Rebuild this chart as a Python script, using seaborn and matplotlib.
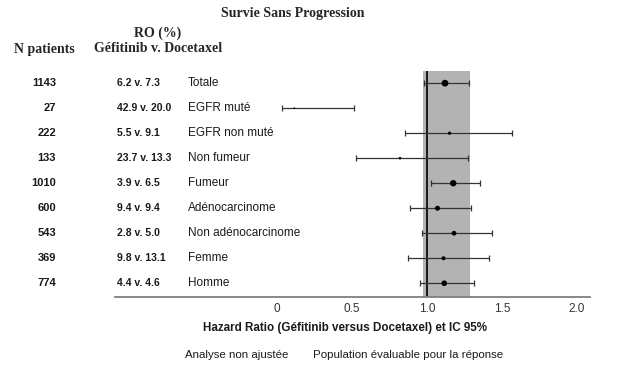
import matplotlib
matplotlib.use("Agg")
import matplotlib.pyplot as plt
import matplotlib.transforms as mtransforms
import seaborn as sns
import pandas as pd
import numpy as np

# ---- data ----
subgroups = ["Totale", "EGFR muté", "EGFR non muté", "Non fumeur", "Fumeur",
             "Adénocarcinome", "Non adénocarcinome", "Femme", "Homme"]
n_patients = [1143, 27, 222, 133, 1010, 600, 543, 369, 774]
ro_text = ["6.2 v. 7.3", "42.9 v. 20.0", "5.5 v. 9.1", "23.7 v. 13.3", "3.9 v. 6.5",
           "9.4 v. 9.4", "2.8 v. 5.0", "9.8 v. 13.1", "4.4 v. 4.6"]
hr = [1.12, 0.115, 1.15, 0.82, 1.175, 1.07, 1.18, 1.11, 1.115]
ci_low = [0.98, 0.03, 0.853, 0.527, 1.027, 0.889, 0.969, 0.876, 0.951]
ci_high = [1.282, 0.515, 1.565, 1.276, 1.353, 1.293, 1.431, 1.411, 1.313]
band_low, band_high = 0.971, 1.287
xticks = [0, 0.5, 1.0, 1.5, 2.0]
xtick_labels = ["0", "0.5", "1.0", "1.5", "2.0"]

df = pd.DataFrame({"subgroup": subgroups, "n": n_patients, "ro": ro_text,
                   "hr": hr, "lo": ci_low, "hi": ci_high})
df["row"] = np.arange(len(df))

sns.set_style("white")
plt.rcParams["font.family"] = ["Liberation Sans", "DejaVu Sans"]

W, H = 627, 369
fig = plt.figure(figsize=(W / 100, H / 100), dpi=100)
ax = fig.add_axes([115 / W, 1 - 297 / H, (590 - 115) / W, (297 - 70.7) / H])

ax.axvspan(band_low, band_high, color="#b3b3b3", lw=0, zorder=0)
ax.axvline(1.0, color="#1a1a1a", lw=1.4, zorder=1)

ax.errorbar(df["hr"], df["row"],
            xerr=[df["hr"] - df["lo"], df["hi"] - df["hr"]],
            fmt="none", ecolor="#333333", elinewidth=0.9, capsize=2.3,
            capthick=0.9, zorder=2)
sns.scatterplot(data=df, x="hr", y="row", size="n", sizes=(1.5, 24),
                color="black", edgecolor="black", linewidth=0, legend=False,
                ax=ax, zorder=3)

ax.set_xlim((115 - 277) / 150, (590 - 277) / 150)
ax.set_ylim(8.55, -0.5)
ax.set_yticks([])
ax.set_xticks(xticks)
ax.set_xticklabels(xtick_labels, fontsize=8.5, color="#333333")
ax.tick_params(axis="x", length=0, pad=4)
ax.set_xlabel("")
ax.set_ylabel("")
for s in ["left", "right", "top"]:
    ax.spines[s].set_visible(False)
ax.spines["bottom"].set_color("#7f7f7f")
ax.spines["bottom"].set_linewidth(1.3)

tr = mtransforms.blended_transform_factory(fig.transFigure, ax.transData)
for i, row in df.iterrows():
    ax.text(56 / W, row["row"], str(row["n"]), transform=tr, ha="right",
            va="center", fontsize=8, fontweight="bold", color="#1a1a1a", clip_on=False)
    ax.text(117 / W, row["row"], row["ro"], transform=tr, ha="left",
            va="center", fontsize=7.5, fontweight="bold", color="#1a1a1a", clip_on=False)
    ax.text(188 / W, row["row"], row["subgroup"], transform=tr, ha="left",
            va="center", fontsize=8.5, color="#1a1a1a", clip_on=False)

serif = ["Liberation Serif", "DejaVu Serif"]
fig.text(293 / W, 1 - 13 / H, "Survie Sans Progression", ha="center", va="center",
         fontsize=10, fontweight="bold", family=serif)
fig.text(158 / W, 1 - 33 / H, "RO (%)", ha="center", va="center",
         fontsize=10, fontweight="bold", family=serif)
fig.text(158 / W, 1 - 49 / H, "Géfitinib v. Docetaxel", ha="center", va="center",
         fontsize=10, fontweight="bold", family=serif)
fig.text(44 / W, 1 - 49 / H, "N patients", ha="center", va="center",
         fontsize=10, fontweight="bold", family=serif)

fig.text(345 / W, 1 - 328 / H, "Hazard Ratio (Géfitinib versus Docetaxel) et IC 95%",
         ha="center", va="center", fontsize=8.35, fontweight="bold", color="#1a1a1a")
fig.text(185 / W, 1 - 355 / H, "Analyse non ajustée", ha="left", va="center",
         fontsize=8.25, color="#1a1a1a")
fig.text(313 / W, 1 - 355 / H, "Population évaluable pour la réponse", ha="left",
         va="center", fontsize=8.25, color="#1a1a1a")

fig.savefig("out.png", dpi=100, facecolor="white")
